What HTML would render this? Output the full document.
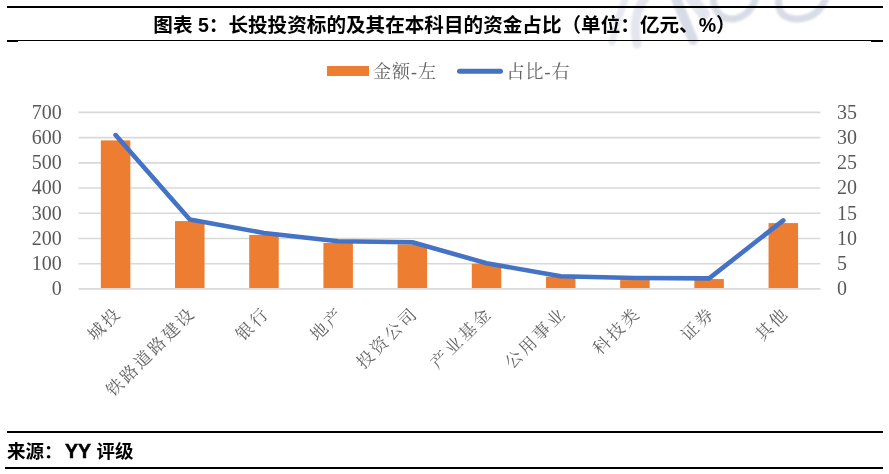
<!DOCTYPE html>
<html><head><meta charset="utf-8"><style>
html,body{margin:0;padding:0;background:#fff;}
body{width:889px;height:474px;overflow:hidden;position:relative;}
svg{position:absolute;left:0;top:0;will-change:transform;}
.ax{font-family:"Liberation Serif","Noto Serif CJK SC",serif;font-size:20px;fill:#595959;}
.xl{font-family:"Liberation Serif","Noto Serif CJK SC",serif;font-size:17px;letter-spacing:2.7px;fill:#626262;}
.lg{font-family:"Liberation Serif","Noto Serif CJK SC",serif;font-size:18px;letter-spacing:1px;fill:#626262;}
.tt{font-family:"Liberation Sans","Noto Sans CJK SC",sans-serif;font-size:19.6px;font-weight:700;fill:#000;}
</style></head><body>
<svg width="889" height="474" viewBox="0 0 889 474">
<defs><filter id="bl" x="-20%" y="-20%" width="140%" height="140%"><feGaussianBlur stdDeviation="1.2"/></filter></defs>
<g fill="none" stroke="#d8dce6" stroke-linecap="round" filter="url(#bl)">
<path d="M626 -3 Q618 18 612 42" stroke-width="7" stroke="#e6e9f0"/>
<path d="M646 -3 Q631 15 637 44" stroke-width="9" stroke="#e3e6ee"/>
<path d="M675 -4 L693 40" stroke-width="10"/>
<path d="M690 -4 L704 14" stroke-width="12" stroke="#e3e6ee"/>
<path d="M713 -2 Q715 20 734 19 Q750 16 756 -2" stroke-width="7"/>
<path d="M779 -2 Q776 18 796 19 Q818 19 826 -2" stroke-width="7"/>
</g>
<rect x="7" y="6" width="876" height="2" fill="#000"/>
<text x="444.5" y="32" text-anchor="middle" class="tt">图表 5：长投投资标的及其在本科目的资金占比（单位：亿元、%）</text>
<rect x="7" y="40" width="876" height="1" fill="#000"/>
<rect x="7" y="40" width="11" height="2" fill="#000"/>
<rect x="871" y="40" width="12" height="2" fill="#000"/>
<rect x="327" y="66" width="42" height="10" fill="#ed7d31"/>
<text x="373" y="77.5" class="lg">金额-左</text>
<line x1="459.5" y1="71.3" x2="500.5" y2="71.3" stroke="#4472c4" stroke-width="5" stroke-linecap="round"/>
<text x="506.5" y="77.5" class="lg">占比-右</text>
<line x1="78.5" y1="288.90" x2="820.4" y2="288.90" stroke="#d9d9d9" stroke-width="1.6"/>
<line x1="78.5" y1="263.69" x2="820.4" y2="263.69" stroke="#d9d9d9" stroke-width="1.6"/>
<line x1="78.5" y1="238.47" x2="820.4" y2="238.47" stroke="#d9d9d9" stroke-width="1.6"/>
<line x1="78.5" y1="213.26" x2="820.4" y2="213.26" stroke="#d9d9d9" stroke-width="1.6"/>
<line x1="78.5" y1="188.04" x2="820.4" y2="188.04" stroke="#d9d9d9" stroke-width="1.6"/>
<line x1="78.5" y1="162.83" x2="820.4" y2="162.83" stroke="#d9d9d9" stroke-width="1.6"/>
<line x1="78.5" y1="137.61" x2="820.4" y2="137.61" stroke="#d9d9d9" stroke-width="1.6"/>
<line x1="78.5" y1="112.40" x2="820.4" y2="112.40" stroke="#d9d9d9" stroke-width="1.6"/>
<rect x="100.84" y="140.39" width="29.5" height="147.61" fill="#ed7d31"/>
<rect x="175.03" y="221.07" width="29.5" height="66.93" fill="#ed7d31"/>
<rect x="249.23" y="234.94" width="29.5" height="53.06" fill="#ed7d31"/>
<rect x="323.41" y="243.01" width="29.5" height="44.99" fill="#ed7d31"/>
<rect x="397.61" y="244.40" width="29.5" height="43.60" fill="#ed7d31"/>
<rect x="471.79" y="263.69" width="29.5" height="24.31" fill="#ed7d31"/>
<rect x="545.99" y="276.70" width="29.5" height="11.30" fill="#ed7d31"/>
<rect x="620.17" y="280.07" width="29.5" height="7.93" fill="#ed7d31"/>
<rect x="694.37" y="279.07" width="29.5" height="8.93" fill="#ed7d31"/>
<rect x="768.55" y="223.09" width="29.5" height="64.91" fill="#ed7d31"/>
<polyline points="115.59,135.09 189.78,219.56 263.98,232.92 338.16,241.25 412.36,242.25 486.54,263.18 560.74,276.29 634.92,278.01 709.12,278.41 783.30,220.32" fill="none" stroke="#4472c4" stroke-width="4.6" stroke-linejoin="round" stroke-linecap="round"/>
<text x="61.8" y="295.20" text-anchor="end" class="ax">0</text>
<text x="61.8" y="269.99" text-anchor="end" class="ax">100</text>
<text x="61.8" y="244.77" text-anchor="end" class="ax">200</text>
<text x="61.8" y="219.56" text-anchor="end" class="ax">300</text>
<text x="61.8" y="194.34" text-anchor="end" class="ax">400</text>
<text x="61.8" y="169.13" text-anchor="end" class="ax">500</text>
<text x="61.8" y="143.91" text-anchor="end" class="ax">600</text>
<text x="61.8" y="118.70" text-anchor="end" class="ax">700</text>
<text x="837" y="295.20" class="ax">0</text>
<text x="837" y="269.99" class="ax">5</text>
<text x="837" y="244.77" class="ax">10</text>
<text x="837" y="219.56" class="ax">15</text>
<text x="837" y="194.34" class="ax">20</text>
<text x="837" y="169.13" class="ax">25</text>
<text x="837" y="143.91" class="ax">30</text>
<text x="837" y="118.70" class="ax">35</text>
<text transform="translate(122.59,314) rotate(-45)" text-anchor="end" class="xl">城投</text>
<text transform="translate(196.78,314) rotate(-45)" text-anchor="end" class="xl">铁路道路建设</text>
<text transform="translate(270.98,314) rotate(-45)" text-anchor="end" class="xl">银行</text>
<text transform="translate(345.16,314) rotate(-45)" text-anchor="end" class="xl">地产</text>
<text transform="translate(419.36,314) rotate(-45)" text-anchor="end" class="xl">投资公司</text>
<text transform="translate(493.54,314) rotate(-45)" text-anchor="end" class="xl">产业基金</text>
<text transform="translate(567.74,314) rotate(-45)" text-anchor="end" class="xl">公用事业</text>
<text transform="translate(641.92,314) rotate(-45)" text-anchor="end" class="xl">科技类</text>
<text transform="translate(716.12,314) rotate(-45)" text-anchor="end" class="xl">证券</text>
<text transform="translate(790.30,314) rotate(-45)" text-anchor="end" class="xl">其他</text>
<rect x="7" y="431" width="876" height="2" fill="#000"/>
<text x="7" y="457.5" class="tt" style="font-size:18.5px">来源：<tspan x="65" style="font-size:19.5px;stroke:#000;stroke-width:0.5px">YY</tspan><tspan x="96.5">评级</tspan></text>
<rect x="5" y="467" width="878" height="2" fill="#000"/>
</svg>
</body></html>
